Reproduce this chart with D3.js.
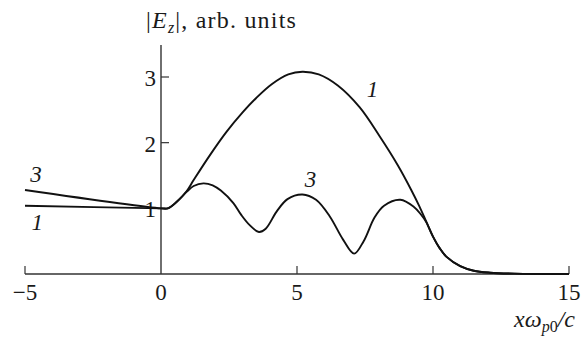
<!DOCTYPE html>
<html>
<head>
<meta charset="utf-8">
<script src="https://cdn.jsdelivr.net/npm/d3@7"></script>
<style>
  html, body { margin: 0; padding: 0; background: #fff; }
  svg { display: block; }
</style>
</head>
<body>
<svg id="chart" width="583" height="337" font-family="'Liberation Serif', 'Times New Roman', Tinos, serif"></svg>
<script>
// Field amplitude |E_z| versus normalised coordinate x·ω_p0/c
const curve1X = [-5, 0, 0.25, 0.58, 0.94, 1.2, 1.8, 2.4, 3.0, 3.5, 4.07, 4.68, 5.2, 5.8, 6.5, 7.3, 8.05, 8.7, 9.2, 9.5, 9.75, 10.0, 10.25, 10.5, 11.0, 11.5, 12.1, 13.0, 15.0];
const curve1Y = [1.04, 1.0, 1.0, 1.10, 1.26, 1.43, 1.81, 2.16, 2.46, 2.68, 2.89, 3.04, 3.08, 3.04, 2.87, 2.54, 2.09, 1.66, 1.28, 1.03, 0.80, 0.57, 0.39, 0.26, 0.12, 0.05, 0.02, 0.005, 0.0];

const curve3X = [-5, 0, 0.25, 0.58, 0.94, 1.2, 1.56, 1.9, 2.2, 2.66, 2.95, 3.27, 3.6, 3.85, 4.25, 4.65, 5.2, 5.7, 6.2, 6.7, 7.1, 7.45, 7.85, 8.2, 8.8, 9.3, 9.55, 9.75, 10.0, 10.25, 10.5, 11.0, 11.5, 12.1, 13.0, 15.0];
const curve3Y = [1.28, 1.0, 1.0, 1.10, 1.25, 1.34, 1.38, 1.35, 1.27, 1.08, 0.90, 0.74, 0.64, 0.69, 0.95, 1.14, 1.21, 1.13, 0.88, 0.52, 0.31, 0.50, 0.86, 1.04, 1.13, 1.02, 0.91, 0.79, 0.57, 0.39, 0.26, 0.12, 0.05, 0.02, 0.005, 0.0];

const xTicks = [-5, 0, 5, 10, 15];
const yTicks = [1, 2, 3];

const svg = d3.select("#chart");
const ink = "#1a1a1a";
const axisColor = "#333";

const x = d3.scaleLinear().domain([-5, 15]).range([25, 569]);
const y = d3.scaleLinear().domain([0, 3]).range([274, 77]);

// x axis line with upward ticks
svg.append("line")
  .attr("x1", x(-5)).attr("x2", x(15))
  .attr("y1", y(0)).attr("y2", y(0))
  .attr("stroke", axisColor).attr("stroke-width", 1.4);

svg.selectAll(".xtick").data(xTicks.filter(d => d !== 0)).enter()
  .append("line")
  .attr("x1", d => x(d)).attr("x2", d => x(d))
  .attr("y1", y(0)).attr("y2", y(0) - 8)
  .attr("stroke", axisColor).attr("stroke-width", 1.2);

svg.selectAll(".xlab").data(xTicks).enter()
  .append("text")
  .attr("x", d => x(d)).attr("y", 300)
  .attr("text-anchor", "middle")
  .attr("font-size", 23).attr("fill", ink)
  .text(d => d < 0 ? "\u2212" + Math.abs(d) : d);

// y axis line at x = 0 with ticks pointing right
svg.append("line")
  .attr("x1", x(0)).attr("x2", x(0))
  .attr("y1", y(0)).attr("y2", 45)
  .attr("stroke", axisColor).attr("stroke-width", 1.4);

svg.selectAll(".ytick").data(yTicks).enter()
  .append("line")
  .attr("x1", x(0)).attr("x2", x(0) + 8)
  .attr("y1", d => y(d)).attr("y2", d => y(d))
  .attr("stroke", axisColor).attr("stroke-width", 1.2);

svg.selectAll(".ylab").data(yTicks).enter()
  .append("text")
  .attr("x", x(0) - 5).attr("y", d => y(d) + 9)
  .attr("text-anchor", "end")
  .attr("font-size", 23).attr("fill", ink)
  .text(d => d);

// curves
const line = d3.line()
  .x(d => x(d[0])).y(d => y(d[1]))
  .curve(d3.curveCatmullRom.alpha(0.5));

svg.append("path")
  .datum(d3.zip(curve1X, curve1Y))
  .attr("d", line)
  .attr("fill", "none").attr("stroke", "#111").attr("stroke-width", 1.9);

svg.append("path")
  .datum(d3.zip(curve3X, curve3Y))
  .attr("d", line)
  .attr("fill", "none").attr("stroke", "#111").attr("stroke-width", 1.9);

// curve labels
const labels = [
  { t: "3", x: -4.6, v: 1.40 },
  { t: "1", x: -4.55, v: 0.67 },
  { t: "3", x: 5.5, v: 1.32 },
  { t: "1", x: 7.78, v: 2.70 }
];
svg.selectAll(".clab").data(labels).enter()
  .append("text")
  .attr("x", d => x(d.x)).attr("y", d => y(d.v))
  .attr("text-anchor", "middle")
  .attr("font-size", 23).attr("fill", ink)
  .attr("font-style", "italic")
  .text(d => d.t);

// y axis title
const yt = svg.append("text").attr("x", 146).attr("y", 28).attr("font-size", 24)
  .attr("letter-spacing", 1.2).attr("fill", ink);
yt.append("tspan").text("|");
yt.append("tspan").attr("font-style", "italic").text("E");
yt.append("tspan").attr("font-style", "italic").attr("font-size", 16).attr("dy", 5).text("z");
yt.append("tspan").attr("dy", -5).text("|, arb. units");

// x axis title
const xt = svg.append("text").attr("x", 575).attr("y", 327).attr("text-anchor", "end").attr("font-size", 24).attr("fill", ink);
xt.append("tspan").attr("font-style", "italic").text("x\u03c9");
xt.append("tspan").attr("font-style", "italic").attr("font-size", 16).attr("dy", 5).text("p");
xt.append("tspan").attr("font-size", 16).text("0");
xt.append("tspan").attr("dy", -5).attr("font-style", "italic").text("/c");
</script>
</body>
</html>
